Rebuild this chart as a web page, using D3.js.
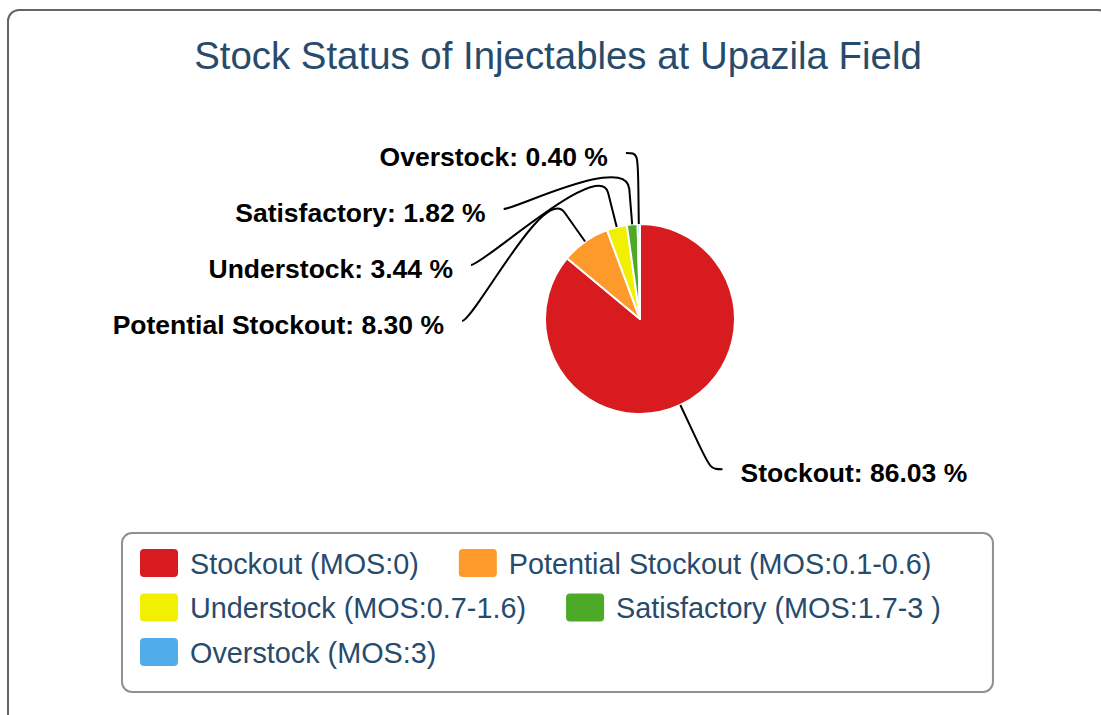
<!DOCTYPE html>
<html>
<head>
<meta charset="utf-8">
<script src="https://cdn.jsdelivr.net/npm/d3@7"></script>
<style>
  body { margin: 0; background: #fff; }
  svg { display: block; font-family: "Liberation Sans", Arial, Helvetica, sans-serif; }
</style>
</head>
<body>
<svg id="chart" width="1101" height="715"></svg>
<script>
// Chart data
const chartTitle = "Stock Status of Injectables at Upazila Field";
const categories = ["Stockout", "Potential Stockout", "Understock", "Satisfactory", "Overstock"];
const legendLabels = ["Stockout (MOS:0)", "Potential Stockout (MOS:0.1-0.6)", "Understock (MOS:0.7-1.6)", "Satisfactory (MOS:1.7-3 )", "Overstock (MOS:3)"];
const shares = [86.03, 8.30, 3.44, 1.82, 0.40];
const colors = ["#d71b1e", "#fe992b", "#f0f000", "#4caa27", "#50adea"];

const svg = d3.select("#chart");
const width = +svg.attr("width");
const height = +svg.attr("height");

const centerX = 558;               // chart (title / legend) centre
const cx = 640, cy = 319;          // pie centre
const radius = 95;
const labelDistance = 71;
const labelSpacing = 56;
const textColor = "#274b6d";

// outer frame
svg.append("rect")
  .attr("x", 8).attr("y", 10)
  .attr("width", width).attr("height", height)
  .attr("rx", 11).attr("ry", 11)
  .attr("fill", "#fff")
  .attr("stroke", "#666")
  .attr("stroke-width", 2);

// title
svg.append("text")
  .attr("x", centerX)
  .attr("y", 69)
  .attr("text-anchor", "middle")
  .style("font-size", "38.4px")
  .attr("fill", textColor)
  .text(chartTitle);

// pie
const data = categories.map((c, i) => ({ name: c, value: shares[i], color: colors[i] }));
const pie = d3.pie().sort(null).value(d => d.value);
const arcs = pie(data);
const arc = d3.arc().innerRadius(0).outerRadius(radius);

const pieG = svg.append("g").attr("transform", `translate(${cx},${cy})`);
pieG.selectAll("path")
  .data(arcs)
  .enter().append("path")
  .attr("d", arc)
  .attr("fill", d => d.data.color)
  .attr("stroke", "#fff")
  .attr("stroke-width", 2)
  .attr("stroke-linejoin", "round");

// data labels: natural positions, then push left labels down into slots
const R = radius + labelDistance;
const labels = arcs.map(a => {
  const mid = (a.startAngle + a.endAngle) / 2;
  const left = Math.sin(mid) < 0;
  return {
    a, mid, left,
    naturalY: cy - Math.cos(mid) * R,
    naturalX: cx + Math.sin(mid) * R
  };
});

function placeSide(list) {
  list.sort((p, q) => p.naturalY - q.naturalY);
  let prev = -Infinity;
  list.forEach(l => {
    l.y = Math.max(l.naturalY, prev + labelSpacing);
    if (l.y === l.naturalY) {
      l.x = l.naturalX;
    } else {
      const dy = Math.max(-1, Math.min(1, (l.y - cy) / R));
      l.x = cx + (l.left ? -1 : 1) * Math.cos(Math.asin(dy)) * R;
    }
    prev = l.y;
  });
}
placeSide(labels.filter(l => l.left));
placeSide(labels.filter(l => !l.left));

const labelG = svg.append("g");
labels.forEach(l => {
  const dir = l.left ? -1 : 1;
  const breakR = radius + labelDistance / 2;
  const bx = cx + Math.sin(l.mid) * breakR, by = cy - Math.cos(l.mid) * breakR;
  const tx = cx + Math.sin(l.mid) * radius, ty = cy - Math.cos(l.mid) * radius;
  const p = d3.path();
  p.moveTo(l.x + dir * 12, l.y);
  p.bezierCurveTo(l.x, l.y, 2 * bx - tx, 2 * by - ty, bx, by);
  p.lineTo(tx, ty);
  labelG.append("path")
    .attr("d", p.toString())
    .attr("fill", "none")
    .attr("stroke", "#000")
    .attr("stroke-width", 2);

  labelG.append("text")
    .attr("x", l.x + dir * 30)
    .attr("y", l.y + 4)
    .attr("dominant-baseline", "central")
    .attr("text-anchor", l.left ? "end" : "start")
    .style("font-size", "26.5px")
    .style("font-weight", "bold")
    .attr("fill", "#000")
    .text(`${l.a.data.name}: ${l.a.data.value.toFixed(2)} %`);
});

// legend
const legendX = 122, legendY = 533;
const padLeft = 18, firstRow = 30, rowHeight = 44.5, padBottom = 40;
const symW = 38, symH = 28, symGap = 12, itemGap = 40, maxRowWidth = 860;

const legendBox = svg.append("rect");
const legendG = svg.append("g");
const items = legendLabels.map((t, i) => {
  const g = legendG.append("g");
  g.append("rect")
    .attr("width", symW).attr("height", symH)
    .attr("y", -symH / 2)
    .attr("rx", 4).attr("ry", 4)
    .attr("fill", colors[i]);
  const txt = g.append("text")
    .attr("x", symW + symGap)
    .attr("y", 10.5)
    .style("font-size", "28.8px")
    .attr("fill", textColor)
    .text(t);
  return { g, w: symW + symGap + txt.node().getComputedTextLength() };
});

let row = 0, rowX = 0, widest = 0;
items.forEach(it => {
  if (rowX > 0 && rowX + itemGap + it.w > maxRowWidth) { row++; rowX = 0; }
  const x = rowX === 0 ? 0 : rowX + itemGap;
  it.g.attr("transform", `translate(${legendX + padLeft + x},${legendY + firstRow + row * rowHeight})`);
  rowX = x + it.w;
  widest = Math.max(widest, rowX);
});

legendBox
  .attr("x", legendX).attr("y", legendY)
  .attr("width", widest + padLeft + 52)
  .attr("height", firstRow + row * rowHeight + padBottom)
  .attr("rx", 10).attr("ry", 10)
  .attr("fill", "#fff")
  .attr("stroke", "#909090")
  .attr("stroke-width", 2);
</script>
</body>
</html>
